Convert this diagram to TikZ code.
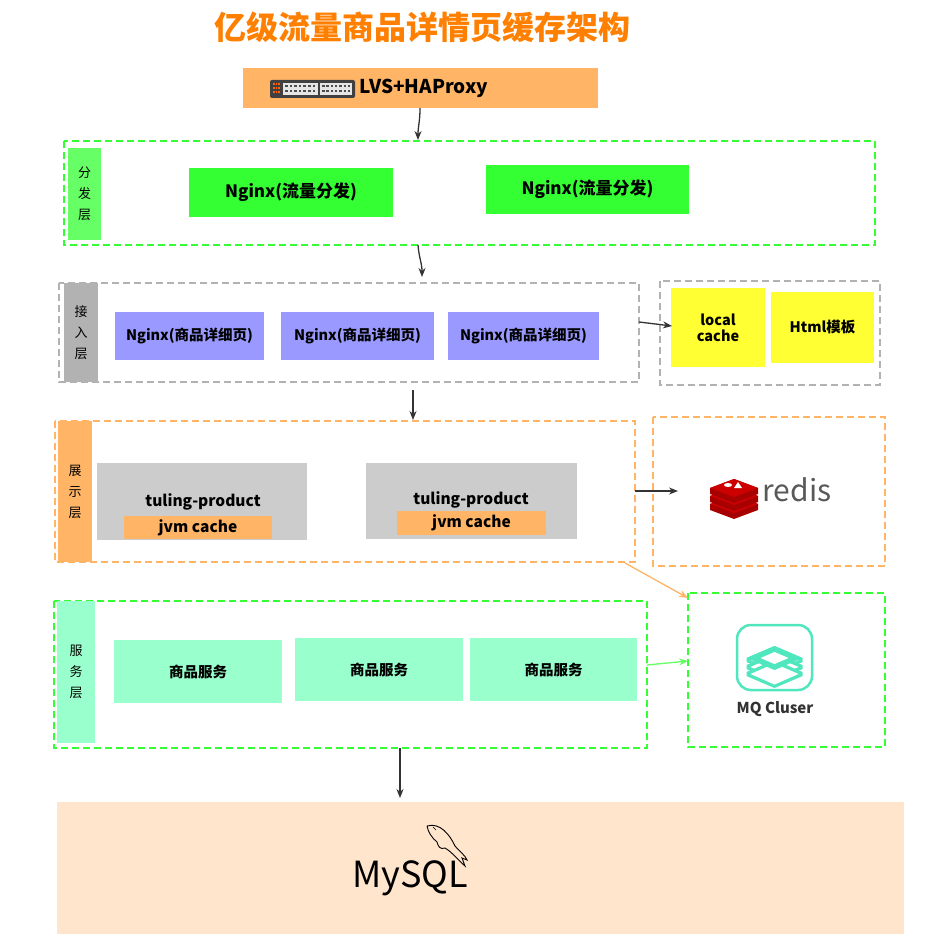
\documentclass[tikz,border=0pt]{standalone}
\usepackage{fontspec}
\setmainfont{Noto Sans CJK SC}
\usetikzlibrary{arrows.meta}
\definecolor{og}{RGB}{255,180,102}
\definecolor{gr}{RGB}{51,255,51}
\definecolor{lg}{RGB}{102,255,102}
\definecolor{pu}{RGB}{153,153,255}
\definecolor{ye}{RGB}{255,255,51}
\definecolor{gy}{RGB}{204,204,204}
\definecolor{mint}{RGB}{153,255,204}
\definecolor{teal}{RGB}{80,230,190}
\definecolor{peach}{RGB}{255,229,204}
\definecolor{title}{RGB}{255,128,0}
\begin{document}
\begin{tikzpicture}[x=1pt,y=-1pt,
  box/.style={draw=none,inner sep=0pt,font=\bfseries\fontsize{17}{20}\selectfont},
  sbox/.style={box,font=\bfseries\fontsize{14.5}{17}\selectfont},
  lane/.style={dashed,line width=1.5pt,dash pattern=on 7pt off 4pt},
  lbl/.style={inner sep=0pt,align=center,font=\fontsize{13}{21}\selectfont},
  arr/.style={-{Stealth[length=9pt,width=7pt]},line width=1.3pt,draw=black!80}]
\useasboundingbox (0,0) rectangle (944,949);
\fill[white] (0,0) rectangle (944,949);
\node[font=\bfseries\fontsize{32}{36}\selectfont,text=title] (title) at (422,27) {亿级流量商品详情页缓存架构};
% LVS
\fill[og] (243,68) rectangle (598,108);
\fill[black!75,rounded corners=2pt] (270,80) rectangle (355,98);
\foreach \i in {0,...,2}\foreach \j in {0,1,2}{\fill[orange!80!red] (273+\i*2.5,83+\j*4) rectangle ++(1.5,2);}
\fill[white!90!black] (283,83) rectangle (318,95);\fill[white!90!black] (320,83) rectangle (352,95);
\foreach \i in {0,...,6}{\fill[black!70] (285+\i*4.6,85) rectangle ++(2.5,2.5);\fill[black!70] (285+\i*4.6,90) rectangle ++(2.5,2.5);}
\foreach \i in {0,...,6}{\fill[black!70] (322+\i*4.3,85) rectangle ++(2.5,2.5);\fill[black!70] (322+\i*4.3,90) rectangle ++(2.5,2.5);}
\node[anchor=west,font=\bfseries\fontsize{19}{22}\selectfont] (lvst) at (356,88) {LVS+HAProxy};
% layer 1
\draw[lane,draw=gr] (64,141) rectangle (875,245);
\node[lbl,fill=lg,minimum width=33pt,minimum height=92pt] (l1) at (84.5,194) {分\\发\\层};
\node[box,fill=gr,minimum width=204pt,minimum height=49pt] (n1) at (291,192.5) {Nginx(流量分发)};
\node[box,fill=gr,minimum width=203pt,minimum height=49pt] (n2) at (587.5,189.5) {Nginx(流量分发)};
% layer 2
\draw[lane,draw=black!30] (59,283) rectangle (639,382);
\node[lbl,fill=black!30,minimum width=34pt,minimum height=99pt] (l2) at (81,332.5) {接\\入\\层};
\node[sbox,fill=pu,minimum width=149pt,minimum height=48pt] (p1) at (189.5,336) {Nginx(商品详细页)};
\node[sbox,fill=pu,minimum width=153pt,minimum height=48pt] (p2) at (357.5,336) {Nginx(商品详细页)};
\node[sbox,fill=pu,minimum width=151pt,minimum height=48pt] (p3) at (523.5,336) {Nginx(商品详细页)};
\draw[lane,draw=black!30] (660,281) rectangle (880,385);
\node[sbox,fill=ye,minimum width=94pt,minimum height=79pt,align=center,font=\bfseries\fontsize{14.5}{16}\selectfont] (lc) at (718,327.5) {local\\cache};
\node[sbox,fill=ye,minimum width=103pt,minimum height=71pt] (ht) at (822.5,327.5) {Html模板};
% layer 3
\draw[lane,draw=og] (55,421) rectangle (635,562);
\node[lbl,fill=og,minimum width=34pt,minimum height=141pt] (l3) at (75,491.5) {展\\示\\层};
\fill[gy] (97,463) rectangle (307,540);
\node[sbox,font=\bfseries\fontsize{15.5}{18}\selectfont] (t1) at (203,502) {tuling-product};
\node[sbox,fill=og,minimum width=148pt,minimum height=23pt,font=\bfseries\fontsize{15.5}{18}\selectfont] (j1) at (198,527.5) {jvm cache};
\fill[gy] (366,463) rectangle (577,539);
\node[sbox,font=\bfseries\fontsize{15.5}{18}\selectfont] (t2) at (471,500) {tuling-product};
\node[sbox,fill=og,minimum width=149pt,minimum height=24pt,font=\bfseries\fontsize{15.5}{18}\selectfont] (j2) at (471.5,523) {jvm cache};
\draw[lane,draw=og] (653,417) rectangle (885,566);
% redis icon
\begin{scope}[shift={(734,494)}]
\foreach \k in {2,1,0}{
 \fill[red!65!black] (-24,-6+\k*8) -- (0,-15+\k*8) -- (24,-6+\k*8) -- (24,0+\k*8) -- (0,9+\k*8) -- (-24,0+\k*8) -- cycle;
 \fill[red!80!black] (-24,-6+\k*8) -- (0,-15+\k*8) -- (24,-6+\k*8) -- (0,3+\k*8) -- cycle;}
\fill[white] (-6,-9) ellipse (4pt and 2pt);\fill[white] (4,-12) -- (8,-6) -- (0,-6) -- cycle;
\end{scope}
\node[anchor=west,text=black!65,font=\fontsize{30}{32}\selectfont] (redis) at (759,490) {redis};
% layer 4
\draw[lane,draw=gr] (54,601) rectangle (647,748);
\node[lbl,fill=mint,minimum width=38pt,minimum height=142pt] (l4) at (76,672) {服\\务\\层};
\node[sbox,fill=mint,minimum width=168pt,minimum height=63pt] (s1) at (198,671.5) {商品服务};
\node[sbox,fill=mint,minimum width=168pt,minimum height=63pt] (s2) at (379,669.5) {商品服务};
\node[sbox,fill=mint,minimum width=167pt,minimum height=63pt] (s3) at (553.5,669.5) {商品服务};
\draw[lane,draw=gr] (688,593) rectangle (885,747);
\draw[teal,line width=2.5pt,rounded corners=14pt] (737,625) rectangle (812,690);
\begin{scope}[shift={(774.5,660)}]
\foreach \k in {0,1,2}{\fill[teal] (-28,-2+\k*7) -- (0,-14+\k*7) -- (28,-2+\k*7) -- (28,2+\k*7) -- (0,14+\k*7) -- (-28,2+\k*7) -- cycle;
\fill[white] (-24,0+\k*7) -- (0,-10.5+\k*7) -- (24,0+\k*7) -- (0,10.5+\k*7) -- cycle;}
\fill[teal] (-28,-2) -- (0,-14) -- (28,-2) -- (0,10) -- cycle;
\fill[white] (-14,-2) -- (0,-8) -- (14,-2) -- (0,4) -- cycle;
\end{scope}
\node[font=\bfseries\fontsize{15}{17}\selectfont,text=black!80] (mq) at (775,709) {MQ Cluser};
% mysql
\fill[peach] (57,802) rectangle (904,934);
\node[font=\fontsize{36}{38}\selectfont] (my) at (410,878) {MySQL};
\draw[line width=0.9pt] (427,826) .. controls (440,822) and (450,835) .. (455,846) .. controls (460,852) and (465,855) .. (467,860) -- (462,858) -- (465,866) .. controls (458,860) and (452,852) .. (445,848) .. controls (440,850) and (438,846) .. (437,842) .. controls (432,838) and (428,832) .. (427,826);
\draw[line width=0.6pt] (433,827) -- (436,830);
% arrows
\draw[arr] (420,108) .. controls (420,122) and (418,126) .. (418,140);
\draw[arr] (418,245) .. controls (419,258) and (422,263) .. (422,277);
\draw[arr] (639,322) -- (672,326);
\draw[arr] (413,390) -- (413,420);
\draw[arr] (635,491) -- (678,491);
\draw[-{Stealth[length=9pt,width=7pt]},line width=1.3pt,draw=og] (625,563) -- (688,598);
\draw[-{Stealth[length=9pt,width=7pt]},line width=1.3pt,draw=lg] (647,665) -- (688,661);
\draw[arr] (400,748) -- (400,798);
\end{tikzpicture}
\end{document}
